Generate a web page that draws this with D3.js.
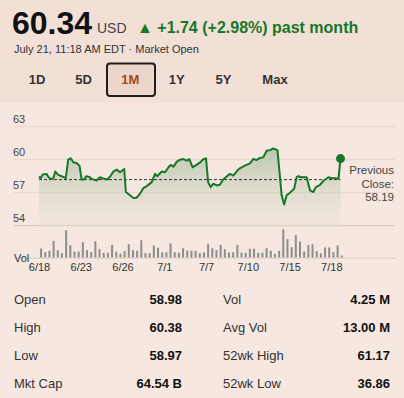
<!DOCTYPE html>
<html>
<head>
<meta charset="utf-8">
<script src="https://cdn.jsdelivr.net/npm/d3@7"></script>
<style>
  body { margin: 0; background: #f6e8e0; }
  svg { display: block; font-family: "Liberation Sans", Arial, sans-serif; }
</style>
</head>
<body>
<svg id="chart"></svg>
<script>
// price track, [position in volume-bar units, price]
const prices = [[0.0,58.47],[0.4,58.32],[0.9,58.65],[1.8,58.71],[2.3,58.41],[2.8,58.26],[3.4,58.26],[3.9,58.92],[4.6,58.62],[5.4,58.50],[6.4,58.32],[7.0,60.00],[7.6,60.12],[8.2,59.76],[9.0,59.70],[9.7,59.46],[10.2,58.20],[10.8,58.20],[11.3,58.50],[12.2,58.41],[12.6,58.26],[13.8,58.11],[14.6,58.41],[15.6,58.26],[16.4,58.20],[17.2,58.56],[17.8,58.92],[18.6,59.10],[19.4,58.86],[20.4,59.16],[20.8,57.06],[21.8,56.76],[22.6,56.52],[23.4,56.55],[24.2,56.91],[25.0,57.42],[25.8,57.60],[27.0,57.96],[27.8,58.71],[28.3,58.50],[29.4,58.92],[30.2,58.86],[31.0,59.31],[31.5,59.52],[32.2,59.37],[33.0,59.82],[33.8,60.00],[34.6,60.06],[35.4,59.91],[36.0,60.06],[36.8,59.31],[37.8,59.55],[38.6,59.76],[39.4,60.06],[40.0,60.12],[40.5,57.96],[41.1,57.51],[41.7,57.81],[42.6,57.66],[43.3,57.72],[44.1,58.20],[45.0,58.50],[45.7,58.71],[46.5,58.56],[47.5,59.01],[48.1,59.22],[49.3,59.46],[50.5,59.67],[51.3,60.06],[52.1,59.97],[52.8,60.15],[53.7,60.21],[54.5,60.81],[55.3,60.87],[56.1,61.02],[57.1,60.87],[57.6,58.86],[58.1,56.76],[58.7,55.92],[59.3,56.76],[60.1,57.00],[61.1,57.36],[61.7,58.41],[62.1,58.50],[62.9,58.41],[64.1,58.41],[64.9,57.21],[65.7,57.06],[66.3,57.51],[67.3,57.72],[68.2,58.11],[69.3,58.41],[70.1,58.32],[70.9,58.32],[71.7,58.26],[72.2,60.10]];

const volumes = [9,5.3,6.7,16.7,7.3,4.3,27.3,12.3,6,6,15.3,7.3,5.3,16.3,8.3,4.7,4.7,12.7,5.7,3.7,6.3,13.3,7.3,6.7,17.3,4.3,4.3,12,9.7,5.3,5.3,14,5.3,4.7,9.3,7,6.8,6.7,4.3,5,13.3,9.3,7.3,12.7,8.3,5,5.3,12.7,5,4.7,8.7,8.7,4.7,4.7,9.3,6.7,3.7,6.7,28.3,18.3,10.3,22.3,16,6,12.3,13.3,6.3,4.3,10,10,5.3,12,2];

const priceTicks = [54, 57, 60, 63];
const dateLabels = ["6/18", "6/23", "6/26", "7/1", "7/7", "7/10", "7/15", "7/18"];
const ranges = ["1D", "5D", "1M", "1Y", "5Y", "Max"];
const previousClose = 58.19;

const leftLabels = ["Open", "High", "Low", "Mkt Cap"];
const leftValues = ["58.98", "60.38", "58.97", "64.54 B"];
const rightLabels = ["Vol", "Avg Vol", "52wk High", "52wk Low"];
const rightValues = ["4.25 M", "13.00 M", "61.17", "36.86"];

const width = 404, height = 398;
const green = "#16772a";

const svg = d3.select("#chart").attr("width", width).attr("height", height);

// header band
svg.append("rect").attr("width", width).attr("height", 103).attr("fill", "#f2e0d6");

svg.append("text").attr("x", 12).attr("y", 34)
  .attr("font-size", 32).attr("font-weight", "bold").attr("fill", "#111")
  .text("60.34");
svg.append("text").attr("x", 97).attr("y", 33)
  .attr("font-size", 14).attr("fill", "#444").text("USD");
svg.append("text").attr("x", 137).attr("y", 33)
  .attr("font-size", 16).attr("font-weight", "bold").attr("fill", green)
  .text("\u25B2 +1.74 (+2.98%) past month");
svg.append("text").attr("x", 14).attr("y", 53)
  .attr("font-size", 11).attr("fill", "#333")
  .text("July 21, 11:18 AM EDT \u00B7 Market Open");

// range buttons
const btnX = d3.scalePoint().domain(ranges).range([37, 270]);
const btns = svg.append("g");
btns.append("rect")
  .attr("x", 107).attr("y", 63.5).attr("width", 48).attr("height", 32.5)
  .attr("rx", 3).attr("fill", "#ecd6ca").attr("stroke", "#1e1e1e").attr("stroke-width", 2);
btns.selectAll("text")
  .data(ranges)
  .join("text")
  .attr("x", d => d === "Max" ? btnX(d) + 5 : btnX(d))
  .attr("y", 84)
  .attr("text-anchor", "middle")
  .attr("font-size", 13).attr("font-weight", "bold")
  .attr("fill", d => d === "1M" ? "#a5471b" : "#333")
  .text(d => d);

// chart scales
const x = d3.scaleLinear().domain([0, 73]).range([39, 39 + 73 * 4.176]);
const y = d3.scaleLinear().domain([54, 63]).range([225.7, 126.7]);
const yVol = d3.scaleLinear().domain([0, 30]).range([257.5, 227.5]);

// gridlines + price labels
svg.append("g").selectAll("line")
  .data(priceTicks)
  .join("line")
  .attr("x1", 14).attr("x2", 395)
  .attr("y1", d => y(d)).attr("y2", d => y(d))
  .attr("stroke", d => d === 54 ? "#dcc9c0" : "#e8d8cf").attr("stroke-width", 1.2);
svg.append("g").selectAll("text")
  .data(priceTicks)
  .join("text")
  .attr("x", 13).attr("y", d => y(d) - 4)
  .attr("font-size", 11).attr("fill", "#444")
  .text(d => d);

// area under price
const defs = svg.append("defs");
const grad = defs.append("linearGradient").attr("id", "fillGrad")
  .attr("gradientUnits", "userSpaceOnUse")
  .attr("x1", 0).attr("x2", 0).attr("y1", y(61)).attr("y2", y(54));
grad.append("stop").attr("offset", 0).attr("stop-color", "#a8bd9f").attr("stop-opacity", 0.75);
grad.append("stop").attr("offset", 1).attr("stop-color", "#e9e3d8").attr("stop-opacity", 0.35);

svg.append("path")
  .datum(prices)
  .attr("d", d3.area().x(d => x(d[0])).y0(y(54)).y1(d => y(d[1])))
  .attr("fill", "url(#fillGrad)");

// previous close
svg.append("line")
  .attr("x1", x(0)).attr("x2", x(prices[prices.length - 1][0]))
  .attr("y1", y(previousClose)).attr("y2", y(previousClose))
  .attr("stroke", "#333").attr("stroke-width", 1).attr("stroke-dasharray", "3,2");

svg.append("path")
  .datum(prices)
  .attr("d", d3.line().x(d => x(d[0])).y(d => y(d[1])))
  .attr("fill", "none").attr("stroke", green).attr("stroke-width", 2)
  .attr("stroke-linejoin", "round");

const last = prices[prices.length - 1];
svg.append("circle")
  .attr("cx", x(last[0])).attr("cy", y(last[1])).attr("r", 4.5)
  .attr("fill", green);

const pc = svg.append("text").attr("text-anchor", "end")
  .attr("font-size", 11.5).attr("fill", "#444");
["Previous", "Close:", previousClose.toFixed(2)].forEach((t, i) => {
  pc.append("tspan").attr("x", 394).attr("y", 174 + i * 13.5).text(t);
});

// volume
svg.append("line")
  .attr("x1", 14).attr("x2", 395).attr("y1", yVol(0) + 0.5).attr("y2", yVol(0) + 0.5)
  .attr("stroke", "#dcc9c0").attr("stroke-width", 1.2);
svg.append("g").selectAll("rect")
  .data(volumes)
  .join("rect")
  .attr("x", (d, i) => x(i + 0.5) - 1)
  .attr("width", 2)
  .attr("y", d => yVol(d))
  .attr("height", d => yVol(0) - yVol(d))
  .attr("fill", "#8d8d8d");
svg.append("text").attr("x", 14).attr("y", 262)
  .attr("font-size", 11).attr("fill", "#333").text("Vol");

// date axis
const xAxis = d3.axisBottom(x)
  .tickValues(dateLabels.map((d, i) => i * 10))
  .tickFormat((d, i) => dateLabels[i])
  .tickSize(0).tickPadding(6);
const ax = svg.append("g").attr("transform", `translate(0, ${yVol(0)})`).call(xAxis);
ax.select(".domain").remove();
ax.selectAll("text").attr("font-size", 11).attr("fill", "#333")
  .attr("font-family", "Liberation Sans, Arial, sans-serif");

// stats table
const rowY = d3.scalePoint().domain(d3.range(leftLabels.length)).range([304, 388]);
const table = svg.append("g").attr("font-size", 13);
table.selectAll("text.ll").data(leftLabels).join("text").attr("class", "ll")
  .attr("x", 14).attr("y", (d, i) => rowY(i)).attr("fill", "#333").text(d => d);
table.selectAll("text.lv").data(leftValues).join("text").attr("class", "lv")
  .attr("x", 182).attr("y", (d, i) => rowY(i)).attr("text-anchor", "end")
  .attr("font-weight", "bold").attr("fill", "#111").text(d => d);
table.selectAll("text.rl").data(rightLabels).join("text").attr("class", "rl")
  .attr("x", 223).attr("y", (d, i) => rowY(i)).attr("fill", "#333").text(d => d);
table.selectAll("text.rv").data(rightValues).join("text").attr("class", "rv")
  .attr("x", 390).attr("y", (d, i) => rowY(i)).attr("text-anchor", "end")
  .attr("font-weight", "bold").attr("fill", "#111").text(d => d);
</script>
</body>
</html>
